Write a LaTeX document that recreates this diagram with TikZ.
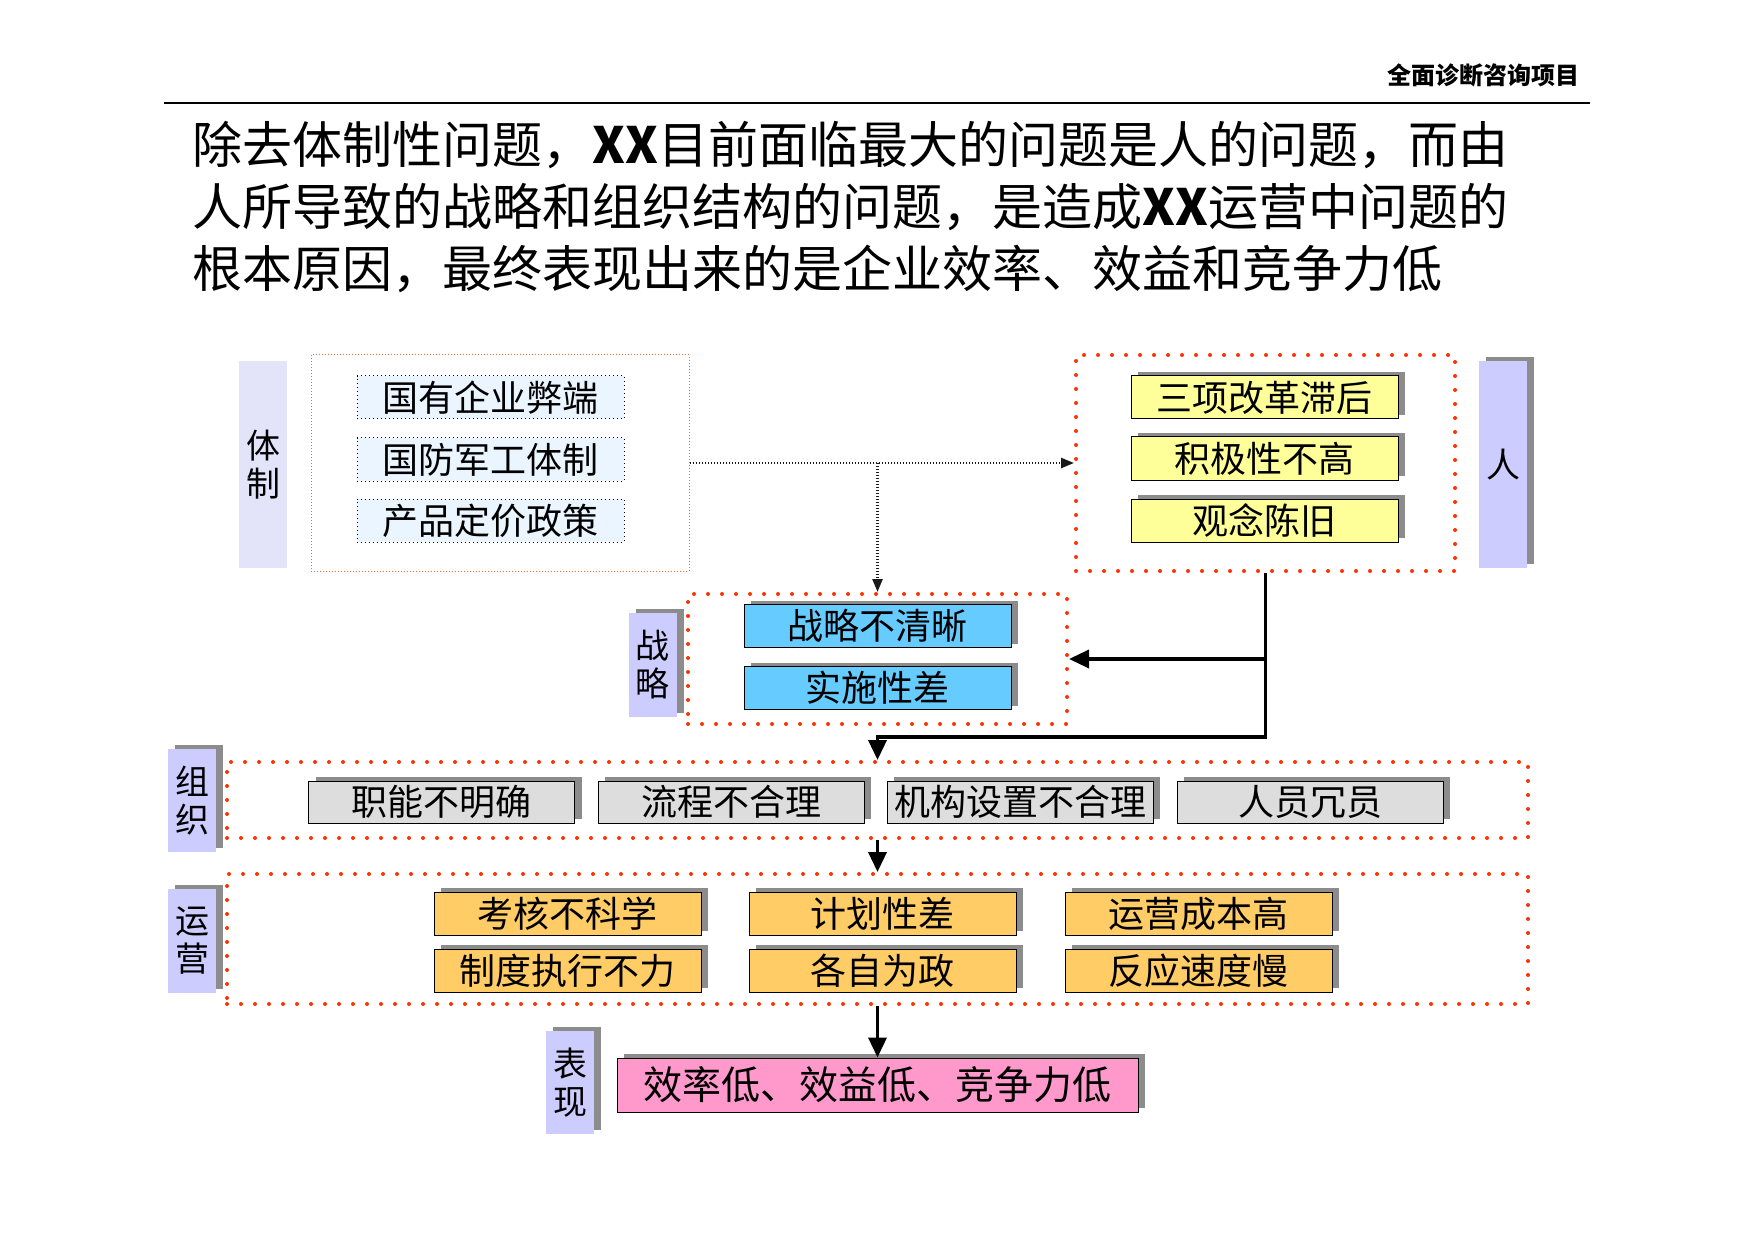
\documentclass[tikz,border=0pt]{standalone}
\usepackage{fontspec}
\setmainfont{Noto Sans CJK SC}
\usetikzlibrary{arrows.meta,positioning,calc,shadows}
\definecolor{redDot}{HTML}{FF3300}
\definecolor{redFine}{HTML}{FF6633}
\definecolor{lavLight}{HTML}{E3E3FA}
\definecolor{lav}{HTML}{CCCCFF}
\definecolor{iceBlue}{HTML}{EAF5FF}
\definecolor{lemon}{HTML}{FFFF99}
\definecolor{sky}{HTML}{66CCFF}
\definecolor{greyBox}{HTML}{DDDDDD}
\definecolor{amber}{HTML}{FFCC66}
\definecolor{rose}{HTML}{FF99CC}

\begin{document}
\begin{tikzpicture}[x=0.5pt,y=-0.5pt,>=Stealth,
    shad/.style={drop shadow={shadow xshift=3.5pt,shadow yshift=2pt,fill=black!45,opacity=1}},
    box/.style={draw=black,line width=0.5pt,minimum width=133.5pt,minimum height=21.5pt,inner sep=0pt,font=\fontsize{18}{18}\selectfont},
    dotbox/.style={box,fill=iceBlue,dash pattern=on 0.6pt off 1.4pt},
    plainlab/.style={fill=lav,minimum width=24pt,inner sep=0pt,align=center,font=\fontsize{17}{19}\selectfont},
    lab/.style={plainlab,shad},
    grp/.style={draw=redDot,line width=2pt,dash pattern=on 0pt off 7pt,line cap=round,inner sep=0pt},
    finegrp/.style={draw=redFine,line width=0.5pt,dash pattern=on 0.5pt off 1pt,inner sep=0pt},
    flowline/.style={line width=1.75pt,-{Triangle[width=9pt,length=10pt]}},
    dotline/.style={line width=1.2pt,black!90,dash pattern=on 0.7pt off 0.8pt,-{Triangle[width=5pt,length=6.5pt]}},
    ttl/.style={anchor=west,inner sep=0pt,font=\fontsize{25}{31}\selectfont}]
  \useasboundingbox (0,0) rectangle (1754,1240);

  \node[anchor=east,inner sep=0pt,font=\bfseries\fontsize{12}{12}\selectfont] (hdr) at (1580,75) {全面诊断咨询项目};
  \draw[line width=0.7pt] (164,103) -- (1590,103);
  \node[ttl] (t1) at (192,145) {除去体制性问题，{\bfseries XX}目前面临最大的问题是人的问题，而由};
  \node[ttl] (t2) at (192,207) {人所导致的战略和组织结构的问题，是造成{\bfseries XX}运营中问题的};
  \node[ttl] (t3) at (192,269) {根本原因，最终表现出来的是企业效率、效益和竞争力低};

  \node[finegrp,minimum width=189pt,minimum height=108pt] (tzgroup) at (500,463) {};
  \node[plainlab,fill=lavLight,minimum height=103.5pt] (tizhi) at (263,464.5) {体\\制};
  \foreach \t/\y [count=\i] in {国有企业弊端/397.5,国防军工体制/459.5,产品定价政策/520.5}
    \node[dotbox] (tz\i) at (490.5,\y) {\t};

  \node[grp,minimum width=189.5pt,minimum height=108pt] (rengroup) at (1265.5,463) {};
  \foreach \t/\y [count=\i] in {三项改革滞后/397.5,积极性不高/458.5,观念陈旧/520.5}
    \node[box,fill=lemon,shad] (ren\i) at (1264.5,\y) {\t};
  \node[lab,minimum height=103.5pt] (ren) at (1503,464.5) {人};

  \node[grp,minimum width=189.5pt,minimum height=65pt] (zlgroup) at (877.5,659) {};
  \node[lab,minimum height=52pt] (zhanlue) at (652.5,665) {战\\略};
  \foreach \t/\y [count=\i] in {战略不清晰/626,实施性差/688}
    \node[box,fill=sky,shad] (zl\i) at (877.5,\y) {\t};

  \node[grp,minimum width=650.5pt,minimum height=38pt] (zzgroup) at (877.5,800) {};
  \node[lab,minimum height=51.5pt] (zuzhi) at (192,800.5) {组\\织};
  \foreach \t/\x [count=\i] in {职能不明确/441.5,流程不合理/731,机构设置不合理/1020,人员冗员/1310}
    \node[box,fill=greyBox,minimum width=133pt,minimum height=21pt,shad] (zz\i) at (\x,802) {\t};

  \node[grp,minimum width=650.5pt,minimum height=65pt] (yygroup) at (877.5,939) {};
  \node[lab,minimum height=52pt] (yunying) at (192,941) {运\\营};
  \foreach \t/\x/\y [count=\i] in {考核不科学/567.5/913.5,计划性差/882.5/913.5,运营成本高/1198.5/913.5,
      制度执行不力/567.5/970.5,各自为政/882.5/970.5,反应速度慢/1198.5/970.5}
    \node[box,fill=amber,shad] (yy\i) at (\x,\y) {\t};

  \node[lab,minimum height=51.5pt] (biaoxian) at (570,1082.5) {表\\现};
  \node[box,fill=rose,minimum width=260.5pt,minimum height=27pt,font=\fontsize{19.5}{20}\selectfont,shad] (bx) at (877.5,1085) {效率低、效益低、竞争力低};

  \coordinate (split) at (tzgroup.east -| zlgroup.north);
  \draw[dotline] (tzgroup.east) -- (rengroup.west);
  \draw[dotline] (split) -- (zlgroup.north);
  \draw[flowline] (rengroup.south) |- (zlgroup.east);
  \draw[flowline] (rengroup.south) -- ++(0,164) -| (zzgroup.north);
  \draw[flowline] (zzgroup.south) -- (yygroup.north);
  \draw[flowline] (yygroup.south) -- (bx.north);
\end{tikzpicture}
\end{document}
